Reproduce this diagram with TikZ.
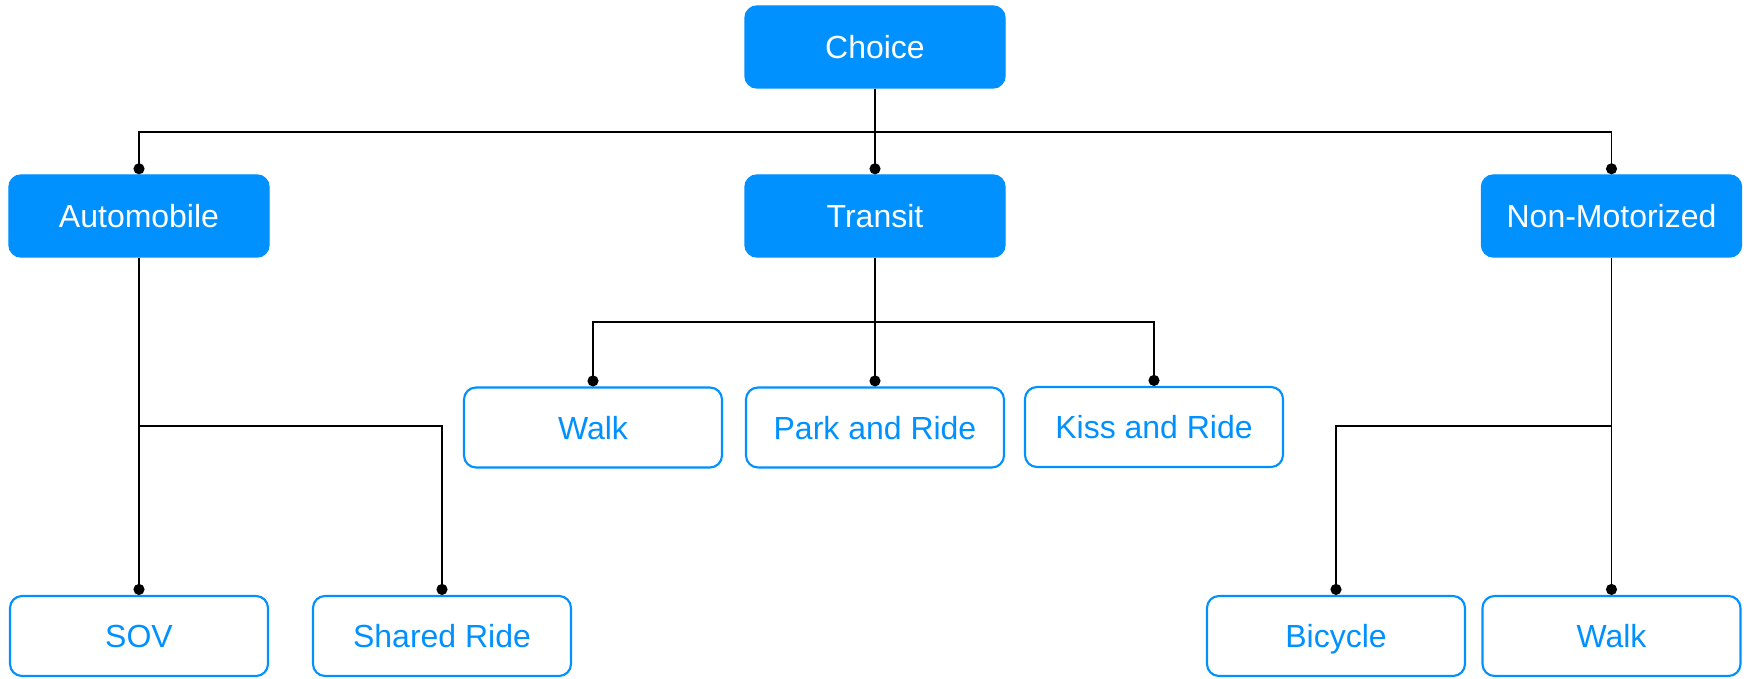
\documentclass[tikz,border=0pt]{standalone}
\usepackage{fontspec}
\setmainfont{Liberation Sans}
\usetikzlibrary{arrows.meta}
\usepackage{xcolor}
\definecolor{boxblue}{HTML}{0091FF}

\begin{document}
\begin{tikzpicture}[x=1cm, y=1cm]
        % ================= styles =================
        \tikzset{
            % filled blue node (root and first level)
            bnode/.style={rectangle, rounded corners=1.2mm, fill=boxblue, draw=boxblue, minimum width=2.6cm, minimum height=0.82cm, inner sep=0pt, text height=1.55ex, text depth=0.3ex, text=white, font=\fontsize{9.1}{11}\selectfont},
            % outlined leaf node
            wnode/.style={rectangle, rounded corners=1.2mm, fill=white, draw=boxblue, line width=0.6pt, minimum width=2.58cm, minimum height=0.8cm, inner sep=0pt, text height=1.55ex, text depth=0.3ex, text=boxblue, font=\fontsize{9.1}{11}\selectfont},
            % connector ending in a dot
            black_edge/.style={line width=0.55pt, black, -{Circle[length=1.1mm]}}
        }
        \useasboundingbox (0,0) rectangle (17.48,-6.79);

        % ================= bus lines =================
        \coordinate (bus_top) at (0,-1.32);   % under Choice
        \coordinate (bus_tr)  at (0,-3.22);   % under Transit
        \coordinate (bus_low) at (0,-4.26);   % Automobile / Non-Motorized

        % ================= nodes =================
        \node[bnode] (choice_n) at (8.75,-0.47) {Choice};

        \node[bnode] (auto_n)    at (1.39,-2.16)  {Automobile};
        \node[bnode] (transit_n) at (8.75,-2.16)  {Transit};
        \node[bnode] (nonmot_n)  at (16.115,-2.16) {Non-Motorized};

        \node[wnode] (walk_t) at (5.93,-4.275)  {Walk};
        \node[wnode] (park_n) at (8.75,-4.275)  {Park and Ride};
        \node[wnode] (kiss_n) at (11.54,-4.27)  {Kiss and Ride};

        \node[wnode] (sov_n)    at (1.39,-6.36)  {SOV};
        \node[wnode] (shared_n) at (4.42,-6.36)  {Shared Ride};
        \node[wnode] (bike_n)   at (13.36,-6.36) {Bicycle};
        \node[wnode] (walk_nm)  at (16.115,-6.36) {Walk};

        % ================= connectors =================
        % 1. Choice -> first level
        \draw[black_edge] (choice_n.south) -- (choice_n.south |- bus_top) -| (auto_n.north);
        \draw[black_edge] (choice_n.south) -- (transit_n.north);
        \draw[black_edge] (choice_n.south) -- (choice_n.south |- bus_top) -| (nonmot_n.north);

        % 2. Transit -> access modes
        \draw[black_edge] (transit_n.south) -- (transit_n.south |- bus_tr) -| (walk_t.north);
        \draw[black_edge] (transit_n.south) -- (park_n.north);
        \draw[black_edge] (transit_n.south) -- (transit_n.south |- bus_tr) -| (kiss_n.north);

        % 3. Automobile -> occupancy
        \draw[black_edge] (auto_n.south) -- (sov_n.north);
        \draw[black_edge] (auto_n.south) -- (auto_n.south |- bus_low) -| (shared_n.north);

        % 4. Non-Motorized -> bicycle / walk
        \draw[black_edge] (nonmot_n.south) -- (walk_nm.north);
        \draw[black_edge] (nonmot_n.south) -- (nonmot_n.south |- bus_low) -| (bike_n.north);

    \end{tikzpicture}
\end{document}
